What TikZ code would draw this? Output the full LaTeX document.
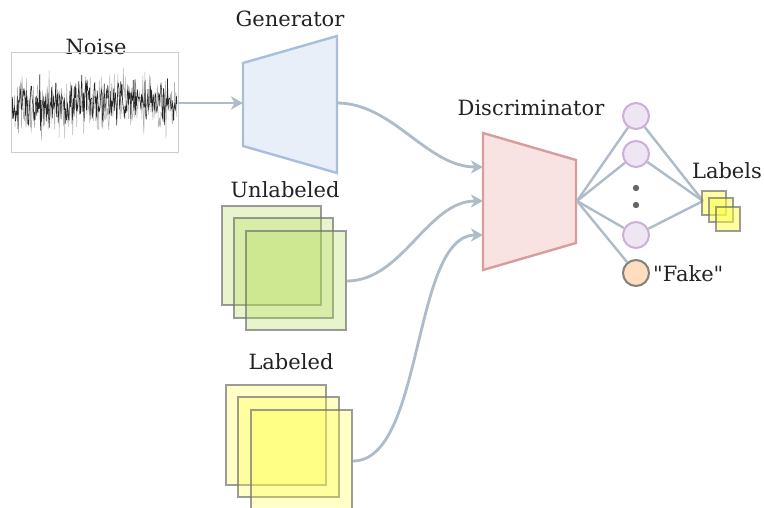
\documentclass[tikz,border=0pt]{standalone}
\usepackage{fontspec}
\setmainfont{DejaVu Serif}
\newfontfamily\plainserif{DejaVu Serif}
\usetikzlibrary{arrows.meta}
\definecolor{wire}{HTML}{AEBBC9}
\definecolor{genfill}{HTML}{E8EFF9}
\definecolor{gendraw}{HTML}{A9BEDD}
\definecolor{discfill}{HTML}{F9E2E2}
\definecolor{discdraw}{HTML}{D79C9C}
\definecolor{unitfill}{HTML}{EEE6F3}
\definecolor{unitdraw}{HTML}{CDAEDA}
\definecolor{fakefill}{HTML}{FFDDBF}
\definecolor{greenimg}{RGB}{180,220,90}
\definecolor{yellowimg}{RGB}{255,255,70}
\definecolor{txt}{HTML}{222222}
\tikzset{
  lbl/.style={text=txt, font=\fontsize{21}{24}\selectfont, inner sep=0pt},
  flow/.style={draw=wire, line width=2.8pt, -{Stealth[length=12pt,width=13pt,inset=3.5pt]}},
  link/.style={draw=wire, line width=2.4pt},
  unit/.style={circle, minimum size=26pt, inner sep=0pt, fill=unitfill, draw=unitdraw, line width=2pt},
  fakeunit/.style={circle, minimum size=26pt, inner sep=0pt, fill=fakefill, draw=black!50, line width=2pt},
  greensheet/.style={fill=greenimg, fill opacity=0.31, draw=black!55, draw opacity=0.7, line width=2pt},
  yellowsheet/.style={fill=yellowimg, fill opacity=0.3, draw=black!55, draw opacity=0.7, line width=2pt},
}
\begin{document}
\begin{tikzpicture}[x=1pt,y=-1pt]
\useasboundingbox (0,0) rectangle (764,508);

% noise panel
\node[lbl] (noiselbl) at (96,47) {Noise};
\draw[black!20, line width=1pt] (11,53) rectangle (178,153);
\coordinate (noiseout) at (178,103);
\pgfmathsetseed{7}
\begin{scope}
\clip (12,54) rectangle (177,152);
\draw[black!30, line width=0.5pt] plot[domain=12:177, samples=330, variable=\t] (\t, {103 + 15*(rand+rand+rand)});
\draw[black!85, line width=0.55pt] plot[domain=12:177, samples=280, variable=\t] (\t, {103 + 11*(rand+rand+rand)});
\end{scope}

% generator
\node[lbl] (genlbl) at (290,19) {Generator};
\filldraw[fill=genfill, draw=gendraw, line width=2.4pt] (243,63) -- (337,36) -- (337,173) -- (243,146) -- cycle;
\coordinate (genin) at (243,103);
\coordinate (genout) at (337,103);

% discriminator
\node[lbl] (disclbl) at (531,108) {Discriminator};
\filldraw[fill=discfill, draw=discdraw, line width=2.4pt] (483,133) -- (576,160) -- (576,243) -- (483,270) -- cycle;
\coordinate (discA) at (483,167);
\coordinate (discB) at (483,201);
\coordinate (discC) at (483,235);
\coordinate (disctip) at (577,201);

% unlabeled images
\node[lbl] (unlbl) at (285,190) {Unlabeled};
\draw[greensheet] (222,206) rectangle (321,305);
\draw[greensheet] (234,218) rectangle (333,318);
\draw[greensheet] (246,231) rectangle (346,330);
\coordinate (unout) at (347,281);

% labeled images
\node[lbl] (lablbl) at (291,362) {Labeled};
\draw[yellowsheet] (226,385) rectangle (326,485);
\draw[yellowsheet] (238,397) rectangle (339,497);
\draw[yellowsheet] (251,410) rectangle (352,522);
\coordinate (labout) at (353,461);

% flows into the networks
\draw[flow] (noiseout) -- (genin);
\draw[flow] (genout) to[out=0, in=180, looseness=0.9] (discA);
\draw[flow] (unout) to[out=0, in=180, looseness=0.9] (discB);
\draw[flow] (labout) to[out=0, in=180, looseness=0.7] (discC);

% output units
\node[unit] (u1) at (636,116) {};
\node[unit] (u2) at (636,154) {};
\node[unit] (u3) at (636,235) {};
\node[fakeunit] (fake) at (636,273) {};
\fill[black!60] (636,188) circle (3.2pt) (636,205) circle (3.2pt);
\node[lbl, anchor=west, font=\plainserif\fontsize{21}{24}\selectfont] (fakelbl) at (653,274) {"Fake"};

% class labels
\coordinate (lblpt) at (703,201);
\node[lbl] (labelslbl) at (727,171) {Labels};

\foreach \u in {u1,u2,u3,fake} \draw[link] (disctip) -- (\u);
\foreach \u in {u1,u2,u3} \draw[link] (\u) -- (lblpt);

\draw[yellowsheet, fill opacity=0.5, line width=1.6pt] (702,191) rectangle (726,215);
\draw[yellowsheet, fill opacity=0.5, line width=1.6pt] (709,198) rectangle (733,222);
\draw[yellowsheet, fill opacity=0.5, line width=1.6pt] (716,207) rectangle (740,231);
\end{tikzpicture}
\end{document}
